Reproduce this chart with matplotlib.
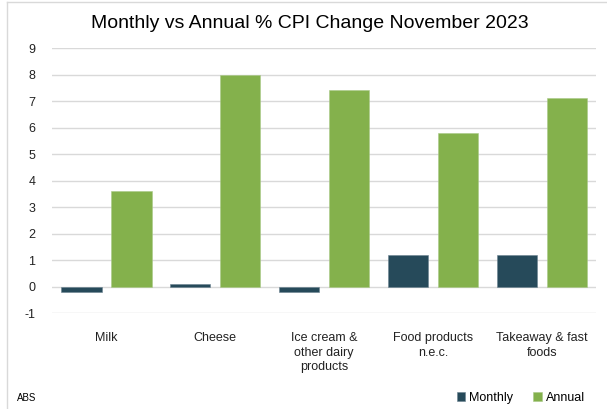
import numpy as np
import matplotlib
matplotlib.use("Agg")
import matplotlib.pyplot as plt
from matplotlib.lines import Line2D

categories = ["Milk", "Cheese", "Ice cream &\nother dairy\nproducts",
              "Food products\nn.e.c.", "Takeaway & fast\nfoods"]
monthly = [-0.2, 0.1, -0.2, 1.2, 1.2]
annual = [3.6, 8.0, 7.4, 5.8, 7.1]
yticks = list(range(-1, 10))

plt.rcParams["font.family"] = ["Liberation Sans", "DejaVu Sans"]

fig = plt.figure(figsize=(6.07, 4.09), dpi=100)
ax = fig.add_axes([0.0857, 0.2347, 0.8963, 0.6479])

x = np.arange(len(categories))
ax.bar(x - 0.23, monthly, 0.37, color="#264a5a", edgecolor="#6b8290", linewidth=0.4,
       label="Monthly", zorder=3)
ax.bar(x + 0.23, annual, 0.37, color="#84b14c", edgecolor="#a9c987", linewidth=0.4,
       label="Annual", zorder=3)

ax.set_xlim(-0.5, len(categories) - 0.5)
ax.set_ylim(-1, 9)
ax.set_yticks(yticks)
ax.set_yticklabels([str(t) for t in yticks], fontsize=9)
ax.set_xticks(x)
ax.set_xticklabels(categories, fontsize=9, linespacing=1.25, va="top")
ax.tick_params(axis="both", length=0, colors="#222222")
ax.tick_params(axis="y", pad=12)
ax.tick_params(axis="x", pad=14)
ax.grid(axis="y", color="#d9d9d9", linewidth=1, zorder=0)
for s in ax.spines.values():
    s.set_visible(False)

fig.text(0.51, 0.942, "Monthly vs Annual % CPI Change November 2023",
         ha="center", va="center", fontsize=14,
         family=["Liberation Sans Narrow", "Liberation Sans", "DejaVu Sans"])

ax.legend(loc="lower right", bbox_to_anchor=(1.0, -0.385), ncol=2, frameon=False,
          fontsize=9, handlelength=0.7, handleheight=0.7, handletextpad=0.3,
          columnspacing=1.6)

fig.text(17 / 607, 1 - 398 / 409, "ABS", fontsize=7, va="center", ha="left")

# chart frame
fig.add_artist(Line2D([7 / 607, 1], [1 - 2 / 409, 1 - 2 / 409], color="#d9d9d9", lw=1,
                      transform=fig.transFigure))
fig.add_artist(Line2D([7 / 607, 7 / 607], [0, 1 - 2 / 409], color="#d9d9d9", lw=1,
                      transform=fig.transFigure))

fig.savefig("out.png", dpi=100)
